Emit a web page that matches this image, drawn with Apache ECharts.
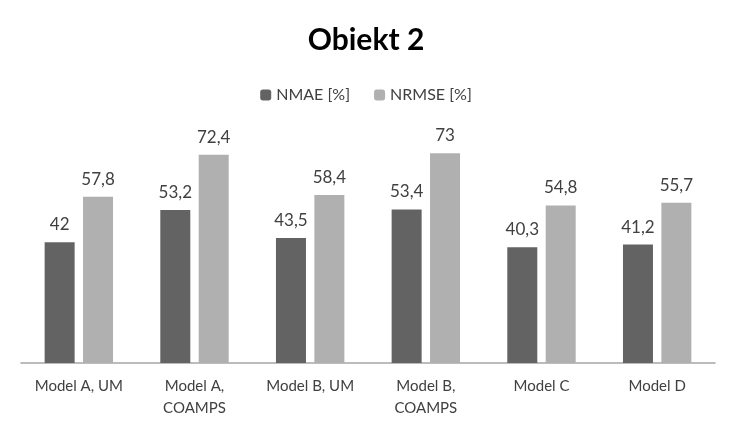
<!DOCTYPE html>
<html><head><meta charset="utf-8">
<script src="https://cdn.jsdelivr.net/npm/echarts@6/dist/echarts.min.js"></script>
<style>html,body{margin:0;padding:0;background:#fff}#c{width:732px;height:439px}</style>
</head><body><div id="c"></div>
<script>
const categories = ["Model A, UM", "Model A,\nCOAMPS", "Model B, UM", "Model B,\nCOAMPS", "Model C", "Model D"];
const nmae = [42, 53.2, 43.5, 53.4, 40.3, 41.2];
const nrmse = [57.8, 72.4, 58.4, 73, 54.8, 55.7];
const fmt = p => String(p.value).replace('.', ',');
const chart = echarts.init(document.getElementById('c'));
const font = 'Lato, "Open Sans", sans-serif';
chart.setOption({
  textStyle: {fontFamily: font},
  title: {text: 'Obiekt 2', left: 'center', top: 20, textStyle: {fontSize: 30, fontWeight: 'bold', color: '#000', fontFamily: font}},
  legend: {top: 82, itemWidth: 11, itemHeight: 11, itemGap: 24, textStyle: {fontSize: 16, color: '#404040'}},
  grid: {left: 21, right: 17, top: 133, bottom: 76},
  xAxis: {type: 'category', data: categories,
    axisLine: {lineStyle: {color: '#a6a6a6', width: 1.5}}, axisTick: {show: false},
    axisLabel: {fontSize: 15, color: '#404040', margin: 12, lineHeight: 22}},
  yAxis: {type: 'value', min: 0, max: 80, show: false, splitLine: {show: false}},
  series: [
    {name: 'NMAE [%]', type: 'bar', data: nmae, barWidth: 30, barGap: '28%', itemStyle: {color: '#636363'},
     label: {show: true, position: 'top', distance: 9, fontSize: 17, color: '#404040', formatter: fmt}},
    {name: 'NRMSE [%]', type: 'bar', data: nrmse, barWidth: 30, itemStyle: {color: '#b0b0b0'},
     label: {show: true, position: 'top', distance: 9, fontSize: 17, color: '#404040', formatter: fmt}}
  ]
});
</script></body></html>
